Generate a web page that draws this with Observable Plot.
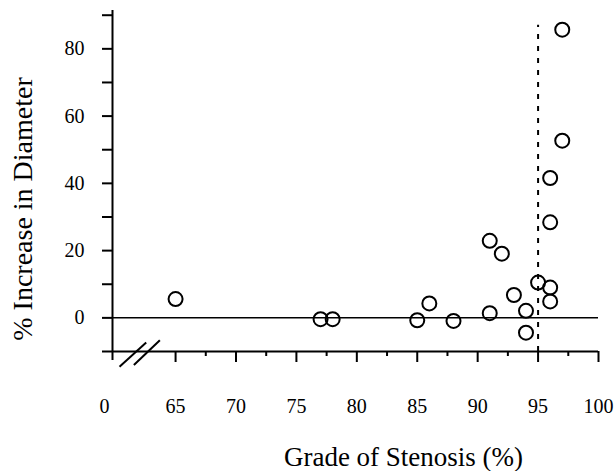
<!DOCTYPE html>
<html><head><meta charset="utf-8">
<script src="https://cdn.jsdelivr.net/npm/d3@7"></script>
<script src="https://cdn.jsdelivr.net/npm/@observablehq/plot@0.6"></script>
<style>body{margin:0;background:#fff}</style>
</head><body><div id="chart"></div>
<script>
const stenosis = [65, 77, 78, 85, 86, 88, 91, 92, 91, 93, 94, 94, 95, 96, 96, 96, 96, 97, 97];
const increase = [5.6, -0.4, -0.4, -0.7, 4.3, -0.9, 22.9, 19.1, 1.4, 6.8, 2.1, -4.4, 10.5, 9.0, 4.9, 28.4, 41.6, 52.7, 85.7];
const xMajorTicks = [65, 70, 75, 80, 85, 90, 95, 100];
const xMinorTicks = [67.5, 72.5, 77.5, 82.5, 87.5, 92.5, 97.5];
const yMajorTicks = [0, 20, 40, 60, 80];
const yMinorTicks = [-10, 10, 30, 50, 70, 90];
const xDomain = [59.78, 100];
const yDomain = [-10, 91.4];
const cutoff = 95;
const cutoffTop = 87;
const breakLabel = "0";
const breakLabelX = 59.12;
const breakMarks = [
  {x1: 60.36, y1: -14.5, x2: 62.57, y2: -7.35},
  {x1: 61.55, y1: -14.0, x2: 63.7, y2: -6.64}
];
const xTitle = "Grade of Stenosis (%)";
const yTitle = "% Increase in Diameter";

const points = stenosis.map((x, i) => ({x, y: increase[i]}));
const font = "'Liberation Serif', 'Times New Roman', serif";

const chart = Plot.plot({
  width: 614, height: 471,
  marginLeft: 112, marginRight: 16, marginTop: 10, marginBottom: 120,
  x: {domain: xDomain},
  y: {domain: yDomain},
  style: {fontFamily: font, fontSize: "20px", color: "#000", background: "#fff"},
  marks: [
    Plot.ruleY([yDomain[0]], {strokeWidth: 2}),
    Plot.ruleX([xDomain[0]], {strokeWidth: 2}),
    Plot.axisY({ticks: yMajorTicks, tickSize: 10, tickPadding: 18, strokeWidth: 2, fontSize: 20, label: null}),
    Plot.axisY({ticks: yMinorTicks, tickSize: 10, strokeWidth: 2, tickFormat: () => "", label: null}),
    Plot.axisX({ticks: xMajorTicks, tickSize: 11, tickPadding: 36, strokeWidth: 2, fontSize: 20, label: null}),
    Plot.axisX({ticks: xMinorTicks, tickSize: 5, strokeWidth: 2, tickFormat: () => "", label: null}),
    Plot.axisX({ticks: [xDomain[0]], tickSize: 9, strokeWidth: 2, tickFormat: () => "", label: null}),
    Plot.text([breakLabel], {x: breakLabelX, frameAnchor: "bottom", dy: 47, lineAnchor: "top", fontSize: 20}),
    Plot.link(breakMarks, {x1: "x1", y1: "y1", x2: "x2", y2: "y2", strokeWidth: 2}),
    Plot.ruleY([0], {strokeWidth: 1.5}),
    Plot.ruleX([cutoff], {y1: yDomain[0], y2: cutoffTop, strokeWidth: 2, strokeDasharray: "5,7"}),
    Plot.dot(points, {x: "x", y: "y", r: 7, stroke: "black", strokeWidth: 2, fill: "none"}),
    Plot.text([yTitle], {frameAnchor: "left", textAnchor: "middle", lineAnchor: "middle", dx: -89, dy: 28, rotate: -90, fontSize: 28}),
    Plot.text([xTitle], {frameAnchor: "bottom", textAnchor: "middle", lineAnchor: "middle", dx: 48, dy: 106, fontSize: 27})
  ]
});
document.getElementById("chart").appendChild(chart);
</script>
</body></html>
